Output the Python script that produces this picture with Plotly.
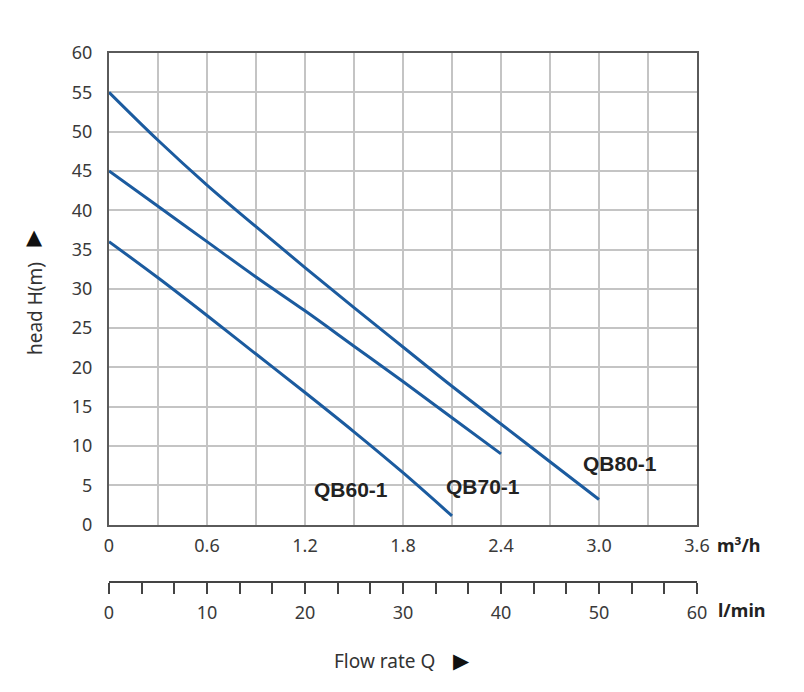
import plotly.graph_objects as go

# Flow rate (m3/h) sample points and head (m) for each pump model
flow_qb80 = [0, 0.3, 0.6, 0.9, 1.2, 1.5, 1.8, 2.1, 2.4, 2.7, 3.0]
head_qb80 = [55, 48.9, 43.2, 37.9, 32.7, 27.6, 22.6, 17.6, 12.8, 8.0, 3.2]

flow_qb70 = [0, 0.3, 0.6, 0.9, 1.2, 1.5, 1.8, 2.1, 2.4]
head_qb70 = [45, 40.5, 36.0, 31.5, 27.2, 22.7, 18.2, 13.6, 9.0]

flow_qb60 = [0, 0.3, 0.6, 0.9, 1.2, 1.5, 1.8, 2.1]
head_qb60 = [36, 31.4, 26.6, 21.7, 16.8, 11.8, 6.6, 1.1]

series_names = ["QB60-1", "QB70-1", "QB80-1"]
label_x = [1.48, 2.29, 3.13]
label_y = [4.5, 4.9, 7.8]

x_ticks = [0, 0.3, 0.6, 0.9, 1.2, 1.5, 1.8, 2.1, 2.4, 2.7, 3.0, 3.3, 3.6]
x_ticktext = ["0", "", "0.6", "", "1.2", "", "1.8", "", "2.4", "", "3.0", "", "3.6"]
y_ticks = [0, 5, 10, 15, 20, 25, 30, 35, 40, 45, 50, 55, 60]
lmin_ticks = [i * 10 / 3 for i in range(19)]
lmin_ticktext = [str(int(round(v))) if i % 3 == 0 else "" for i, v in enumerate(lmin_ticks)]

# the page has an 8px body margin; figure coordinates = page coordinates - 8
OFF = 8
W, H = 796, 676
ML, MR, MT, MB = 101, 107, 45, 102
plot_h = H - MT - MB
main_bottom_px = 524.6 - OFF
dom_bottom = (H - MB - main_bottom_px) / plot_h

line_color = "#1b5b9f"
tick_font = dict(family="Noto Sans, Open Sans, sans-serif", size=18, color="#3a3a3a")

fig = go.Figure()
for fx, hy in [(flow_qb60, head_qb60), (flow_qb70, head_qb70), (flow_qb80, head_qb80)]:
    fig.add_trace(go.Scatter(x=fx, y=hy, mode="lines", line=dict(color=line_color, width=3),
                             line_shape="spline", hoverinfo="skip", showlegend=False))

# invisible trace to hold the l/min axis
fig.add_trace(go.Scatter(x=[lmin_ticks[0], lmin_ticks[-1]], y=[None, None], xaxis="x2", yaxis="y",
                         mode="markers", marker=dict(opacity=0), hoverinfo="skip", showlegend=False))

for name, lx, ly in zip(series_names, label_x, label_y):
    fig.add_annotation(x=lx, y=ly, xref="x", yref="y", text=f"<b>{name}</b>", showarrow=False,
                       font=dict(family="Liberation Sans, Arial, sans-serif", size=21, color="#222222"))

def px_x(p):
    return (p - OFF - ML) / (W - ML - MR)

def px_y(p):
    return (H - MB - (p - OFF)) / plot_h

fig.add_annotation(x=px_x(715), y=px_y(545), xref="paper", yref="paper", xanchor="left", yanchor="middle",
                   text="<b>m³/h</b>", showarrow=False,
                   font=dict(family="Noto Sans, sans-serif", size=18, color="#222222"))
fig.add_annotation(x=px_x(716), y=px_y(610), xref="paper", yref="paper", xanchor="left", yanchor="middle",
                   text="<b>l/min</b>", showarrow=False,
                   font=dict(family="Noto Sans, sans-serif", size=18, color="#222222"))
fig.add_annotation(x=px_x(437), y=px_y(661), xref="paper", yref="paper", xanchor="right", yanchor="middle",
                   text="Flow rate Q", showarrow=False,
                   font=dict(family="Noto Sans, sans-serif", size=19, color="#333333"))
fig.add_annotation(x=px_x(461), y=px_y(661), xref="paper", yref="paper", xanchor="center", yanchor="middle",
                   text="▶", showarrow=False,
                   font=dict(family="DejaVu Sans, sans-serif", size=21, color="#111111"))
fig.add_annotation(x=px_x(35), y=px_y(309), xref="paper", yref="paper", xanchor="center", yanchor="middle",
                   text="head H(m)", textangle=-90, showarrow=False,
                   font=dict(family="Noto Sans, sans-serif", size=19, color="#333333"))
fig.add_annotation(x=px_x(34), y=px_y(237), xref="paper", yref="paper", xanchor="center", yanchor="middle",
                   text="▲", showarrow=False,
                   font=dict(family="DejaVu Sans, sans-serif", size=21, color="#111111"))

fig.update_layout(
    width=W, height=H,
    margin=dict(l=ML, r=MR, t=MT, b=MB, pad=0),
    paper_bgcolor="white", plot_bgcolor="white",
    xaxis=dict(range=[0, 3.6], tickmode="array", tickvals=x_ticks, ticktext=x_ticktext,
               showgrid=True, gridcolor="#c4c4c4", gridwidth=1.5, zeroline=False,
               showline=True, linecolor="#5a5a5a", linewidth=2, mirror=True,
               ticks="outside", ticklen=4, tickcolor="rgba(0,0,0,0)", tickfont=tick_font,
               anchor="y", fixedrange=True),
    yaxis=dict(range=[0, 60], tickmode="array", tickvals=y_ticks, domain=[dom_bottom, 1],
               showgrid=True, gridcolor="#c4c4c4", gridwidth=1.5, zeroline=False,
               showline=True, linecolor="#5a5a5a", linewidth=2, mirror=True,
               ticks="outside", ticklen=11, tickcolor="rgba(0,0,0,0)", tickfont=tick_font,
               fixedrange=True),
    xaxis2=dict(range=[0, 60], tickmode="array", tickvals=lmin_ticks, ticktext=lmin_ticktext,
                anchor="free", position=0, overlaying="x", showgrid=False, zeroline=False,
                showline=True, linecolor="#444444", linewidth=2,
                ticks="outside", ticklen=11, tickwidth=2, tickcolor="#444444",
                ticklabelstandoff=3, tickfont=tick_font, fixedrange=True),
)

fig.write_html("out.html")
